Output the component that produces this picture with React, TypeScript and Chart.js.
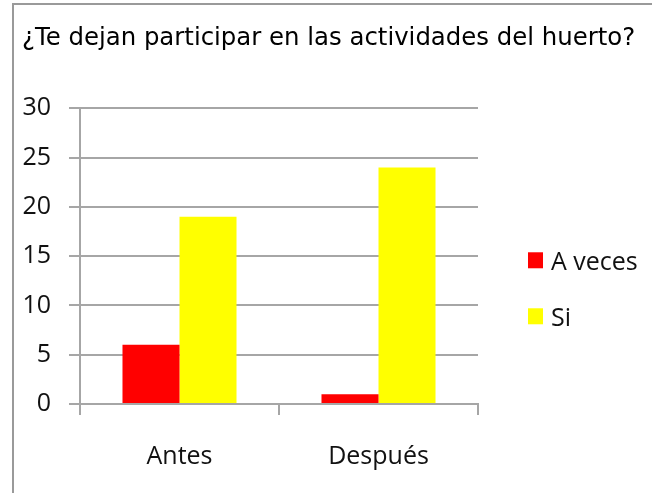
import { useEffect, useRef } from "react";
import { Chart, registerables } from "chart.js";

Chart.register(...registerables);

const TITLE = "¿Te dejan participar en las actividades del huerto?";
const categories = ["Antes", "Después"];
const seriesNames = ["A veces", "Si"];
const aVeces = [6, 1];
const si = [19, 24];
const seriesColors = ["#FF0000", "#FFFF00"];
const Y_MIN = 0;
const Y_MAX = 30;
const Y_STEP = 5;

const GRID = "#a6a6a6";
const LABEL_FONT = '"Open Sans", sans-serif';

const framePlugin = {
  id: "frame",
  beforeDraw(chart: any) {
    const ctx = chart.ctx;
    ctx.save();
    ctx.strokeStyle = "#9a9a9a";
    ctx.lineWidth = 2;
    ctx.beginPath();
    ctx.moveTo(13, chart.height);
    ctx.lineTo(13, 4);
    ctx.lineTo(chart.width, 4);
    ctx.stroke();
    ctx.restore();
  },
};

const sideLegendPlugin = {
  id: "sideLegend",
  afterDraw(chart: any) {
    const ctx = chart.ctx;
    const area = chart.chartArea;
    ctx.save();
    ctx.font = `25px ${LABEL_FONT}`;
    ctx.textBaseline = "middle";
    ctx.textAlign = "left";
    chart.data.datasets.forEach((ds: any, i: number) => {
      const cy = area.top + 152 + i * 56;
      const bx = area.right + 50;
      ctx.fillStyle = ds.backgroundColor;
      ctx.fillRect(bx, cy - 8, 15, 16);
      ctx.fillStyle = "#111";
      ctx.fillText(ds.label, bx + 23, cy + 3);
    });
    ctx.restore();
  },
};

export default function App() {
  const ref = useRef<HTMLCanvasElement | null>(null);

  useEffect(() => {
    if (!ref.current) return;
    const chart = new Chart(ref.current, {
      type: "bar",
      data: {
        labels: categories,
        datasets: [
          { label: seriesNames[0], data: aVeces, backgroundColor: seriesColors[0], borderWidth: 0 },
          { label: seriesNames[1], data: si, backgroundColor: seriesColors[1], borderWidth: 0 },
        ],
      },
      options: {
        responsive: false,
        animation: false,
        devicePixelRatio: 1,
        layout: { padding: { left: 22, right: 0, top: 0, bottom: 0 } },
        datasets: { bar: { categoryPercentage: 0.573, barPercentage: 1 } },
        plugins: {
          legend: { display: false },
          tooltip: { enabled: false },
          title: {
            display: true,
            text: TITLE,
            align: "start",
            color: "#000",
            font: { family: '"DejaVu Sans", sans-serif', size: 24.4, weight: "normal", lineHeight: 1.2 },
            padding: { top: 24, bottom: 55 },
          },
        },
        scales: {
          x: {
            grid: {
              display: true,
              drawOnChartArea: false,
              drawTicks: true,
              tickLength: 11,
              offset: true,
              color: GRID,
              lineWidth: 2,
            },
            border: { display: true, color: GRID, width: 2 },
            ticks: { color: "#111", font: { family: LABEL_FONT, size: 25 }, padding: 27 },
            afterFit: (s: any) => {
              s.height = 89;
            },
          },
          y: {
            min: Y_MIN,
            max: Y_MAX,
            ticks: { stepSize: Y_STEP, color: "#111", font: { family: LABEL_FONT, size: 25 }, padding: 18 },
            grid: { color: GRID, lineWidth: 2, tickLength: 11, drawTicks: true },
            border: { display: true, color: GRID, width: 2 },
            afterFit: (s: any) => {
              s.width = 58;
            },
          },
          yPad: {
            type: "linear",
            position: "right",
            display: true,
            grid: { display: false },
            border: { display: false },
            ticks: { display: false },
            afterFit: (s: any) => {
              s.width = 174;
            },
          },
        },
      },
      plugins: [framePlugin, sideLegendPlugin],
    } as any);
    return () => chart.destroy();
  }, []);

  return (
    <div style={{ position: "fixed", left: 0, top: 0, width: 652, height: 493, background: "#fff" }}>
      <canvas ref={ref} width={652} height={493} style={{ display: "block" }} />
    </div>
  );
}
